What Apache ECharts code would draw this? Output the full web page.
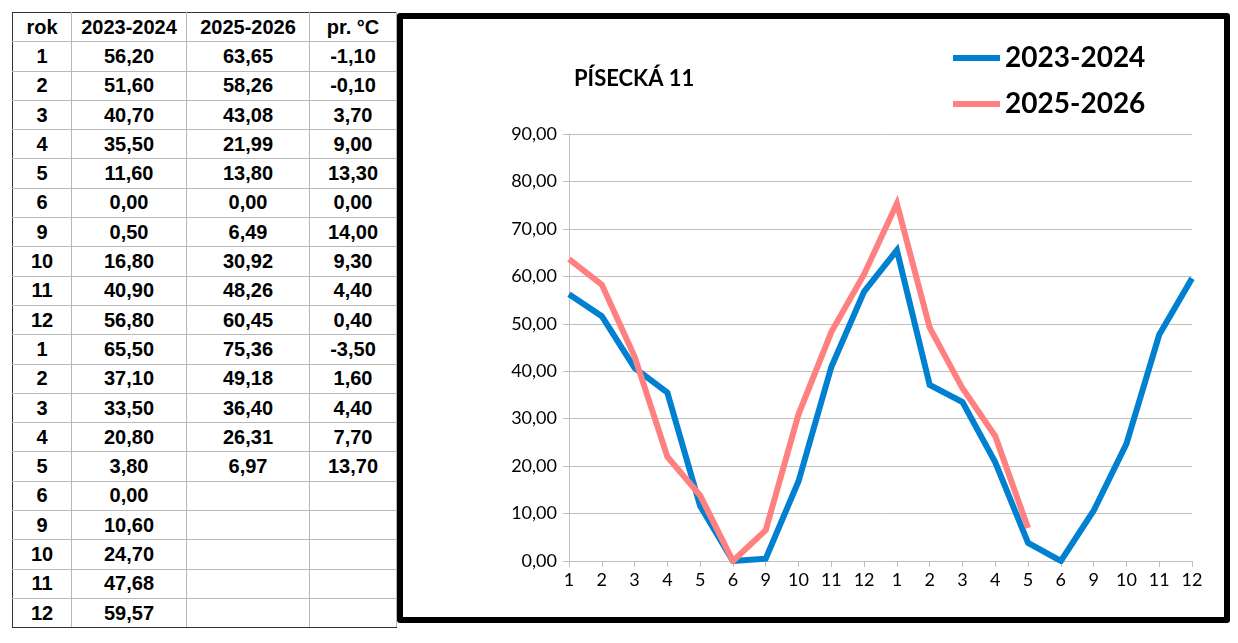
<!DOCTYPE html>
<html>
<head>
<meta charset="utf-8">
<script src="https://cdn.jsdelivr.net/npm/echarts@6/dist/echarts.min.js"></script>
<style>
body { margin: 0; background: #fff; width: 1238px; height: 643px; position: relative; overflow: hidden; }
#tab { position: absolute; left: 12px; top: 12px; border-collapse: collapse; font-family: "Liberation Sans", Arial, sans-serif; font-weight: bold; font-size: 20px; color: #000; table-layout: fixed; }
#tab td { height: 28.3px; padding: 0; text-align: center; border: 1px solid #b8b8b8; overflow: hidden; white-space: nowrap; }
#tab tr:first-child td { border-top: 1px solid #333; }
#tab tr:last-child td { border-bottom: 1px solid #333; }
#tab td:first-child { border-left: 1px solid #333; }
#box { position: absolute; left: 397px; top: 13px; width: 821px; height: 598px; border: 6px solid #000; border-radius: 3px; }
#container { width: 821px; height: 598px; }
</style>
</head>
<body>
<table id="tab"></table>
<div id="box"><div id="container"></div></div>
<script>
// hodnoty z tabulky
var mesice = ['1','2','3','4','5','6','9','10','11','12','1','2','3','4','5','6','9','10','11','12'];
var s2324 = [56.20, 51.60, 40.70, 35.50, 11.60, 0.00, 0.50, 16.80, 40.90, 56.80, 65.50, 37.10, 33.50, 20.80, 3.80, 0.00, 10.60, 24.70, 47.68, 59.57];
var s2526 = [63.65, 58.26, 43.08, 21.99, 13.80, 0.00, 6.49, 30.92, 48.26, 60.45, 75.36, 49.18, 36.40, 26.31, 6.97, null, null, null, null, null];
var teplota = [-1.10, -0.10, 3.70, 9.00, 13.30, 0.00, 14.00, 9.30, 4.40, 0.40, -3.50, 1.60, 4.40, 7.70, 13.70, null, null, null, null, null];
var hlavicka = ['rok', '2023-2024', '2025-2026', 'pr. °C'];
var sirky = [59, 115, 123, 87];

function fmt(v) {
    if (v === null) return '';
    return v.toFixed(2).replace('.', ',');
}

//tabulka vlevo
var tab = document.getElementById('tab');
var html = '<colgroup>';
for (var c = 0; c < sirky.length; c++) html += '<col style="width:' + sirky[c] + 'px">';
html += '</colgroup><tr>';
for (var j = 0; j < hlavicka.length; j++) {
    html += '<td>' + hlavicka[j] + '</td>';
}
html += '</tr>';
for (var i = 0; i < mesice.length; i++) {
    html += '<tr><td>' + mesice[i] + '</td><td>' + fmt(s2324[i]) + '</td><td>' + fmt(s2526[i]) + '</td><td>' + fmt(teplota[i]) + '</td></tr>';
}
tab.innerHTML = html;

var myChart = echarts.init(document.getElementById('container'));
var font = 'Lato, "Open Sans", sans-serif';
var option = {
    animation: false,
    title: {
        text: 'PÍSECKÁ 11',
        left: 166,
        top: 44,
        textStyle: { fontFamily: font, fontSize: 22, fontWeight: 'bold', color: '#000' }
    },
    legend: {
        orient: 'vertical',
        left: 545,
        top: 20,
        itemWidth: 47,
        itemHeight: 6,
        itemGap: 18,
        icon: 'rect',
        textStyle: { fontFamily: font, fontSize: 28, fontWeight: 'bold', color: '#000' },
        data: ['2023-2024', '2025-2026']
    },
    grid: { left: 166, right: 32, top: 115, bottom: 56 },
    xAxis: {
        type: 'category',
        boundaryGap: false,
        data: mesice,
        axisLine: { lineStyle: { color: '#bfbfbf', width: 1 } },
        axisTick: { show: true, length: 6, interval: 0, lineStyle: { color: '#bfbfbf' } },
        axisLabel: { interval: 0, fontFamily: font, fontSize: 18, color: '#000', margin: 10 }
    },
    yAxis: {
        type: 'value',
        min: 0,
        max: 90,
        interval: 10,
        axisLine: { show: true, lineStyle: { color: '#bfbfbf' } },
        axisTick: { show: true, length: 6, lineStyle: { color: '#bfbfbf' } },
        splitLine: { lineStyle: { color: '#bfbfbf' } },
        axisLabel: { fontFamily: font, fontSize: 18, color: '#000', margin: 12, formatter: fmt }
    },
    series: [{
        name: '2023-2024',
        type: 'line',
        data: s2324,
        symbol: 'none',
        color: '#0080d0',
        lineStyle: { width: 6, color: '#0080d0', join: 'miter' }
    }, {
        name: '2025-2026',
        type: 'line',
        data: s2526,
        symbol: 'none',
        color: '#ff8080',
        lineStyle: { width: 6, color: '#ff8080', join: 'miter' }
    }]
};
myChart.setOption(option);
</script>
</body>
</html>
